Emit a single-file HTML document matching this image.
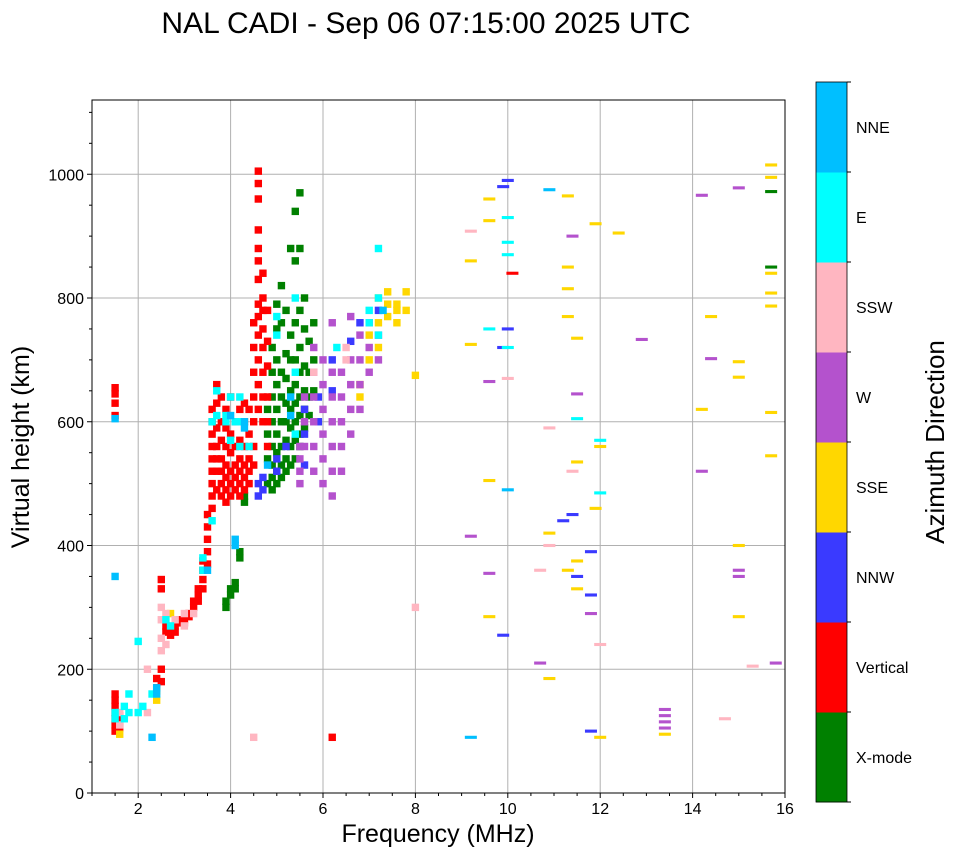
<!DOCTYPE html>
<html><head><meta charset="utf-8"><style>
body{margin:0;background:#fff;}
svg{display:block;font-family:"Liberation Sans","DejaVu Sans",sans-serif;}
</style></head><body>
<svg id="chart" width="958" height="857" viewBox="0 0 958 857">
<text x="426" y="33" font-size="30" text-anchor="middle">NAL CADI - Sep 06 07:15:00 2025 UTC</text>
<g id="grid"></g>
<g id="marks"></g>
<rect x="92" y="100" width="693" height="693" fill="none" stroke="#000" stroke-width="1"/>
<g id="axes"></g>
<text x="438" y="842" font-size="25" text-anchor="middle">Frequency (MHz)</text>
<text transform="translate(29,447) rotate(-90)" font-size="25" text-anchor="middle">Virtual height (km)</text>
<g id="cbar"></g>
<text transform="translate(944,442) rotate(-90)" font-size="26" text-anchor="middle">Azimuth Direction</text>
</svg>
<script>
const categories = ["X-mode","Vertical","NNW","SSE","W","SSW","E","NNE"];
const categoryColors = ["#008000","#ff0000","#3a3aff","#ffd700","#b452cd","#ffb6c1","#00ffff","#00bfff"];
const xTicks = [2,4,6,8,10,12,14,16];
const yTicks = [0,200,400,600,800,1000];
const xMin=1, xMax=16, yMin=0, yMax=1120;

const seriesXmode = [[3.9,[300,310]],[4.0,[320,330]],[4.1,[340,330]],[4.2,[380,390]],[4.3,[470,480]],[4.8,[500,540,580,620]],[4.9,[490,510,530,560,600,640,680,720]],[5.0,[500,520,550,580,620,660,700,750,790]],[5.1,[510,530,560,600,640,680,760,820]],[5.2,[520,540,570,600,630,670,710,780]],[5.3,[530,560,590,620,650,700,740,880]],[5.4,[540,570,600,630,660,700,760,860,940]],[5.5,[560,580,610,640,680,720,780,880,970]],[5.6,[590,620,650,690,750,800]],[5.7,[610,640,680,730]],[5.8,[650,700,760]],[15.7,[850,972]]];
const seriesVertical = [[1.5,[100,110,120,130,140,150,160,610,630,645,655]],[1.6,[105,125,115]],[2.4,[170,185]],[2.5,[180,200,330,345]],[2.6,[270,260]],[2.7,[265,255]],[2.8,[270,260]],[2.9,[275,280]],[3.0,[280,275]],[3.1,[290,285]],[3.2,[300,310]],[3.3,[310,320,330]],[3.4,[330,345,360,375]],[3.5,[370,390,410,430,450]],[3.6,[460,480,500,520,540,560,580,600,620]],[3.7,[490,520,540,560,590,630,660]],[3.8,[480,500,520,540,570,600,640]],[3.9,[470,490,510,530,560,590,620]],[4.0,[480,500,520,550,580,640]],[4.1,[490,510,530,560,600]],[4.2,[480,500,520,540,570,620]],[4.3,[490,510,530,560,600,630]],[4.4,[500,520,540,580,620]],[4.5,[530,560,600,640,680,720,760]],[4.6,[620,660,700,740,770,790,830,860,880,910,960,985,1005]],[4.7,[600,640,680,720,750,780,800,840]],[4.8,[560,600,640,690,730,780]],[6.2,[90]],[10.1,[840]]];
const seriesNNW = [[4.6,[480,500]],[4.7,[490,510]],[5.0,[520,540]],[5.2,[560]],[5.6,[530,580,620]],[5.9,[600,640]],[6.2,[650,700]],[6.6,[730]],[6.8,[760]],[7.2,[780]],[9.9,[980,720,255]],[10.0,[750,990]],[11.2,[440]],[11.4,[450]],[11.5,[350]],[11.8,[390,320,100]]];
const seriesSSE = [[1.6,[95]],[2.4,[150,165]],[2.7,[290]],[6.8,[640,660]],[7.0,[740,700]],[7.2,[720,760,800]],[7.4,[770,790,810]],[7.6,[760,780,790]],[7.8,[780,810]],[8.0,[675]],[9.2,[725,860]],[9.6,[285,505,925,960]],[10.9,[420,185]],[11.3,[360,770,815,850,965]],[11.5,[330,375,535,735]],[11.9,[460,920]],[12.0,[90,560]],[12.4,[905]],[13.4,[95]],[14.2,[620]],[14.4,[770]],[15.0,[285,400,672,697]],[15.7,[545,615,787,808,840,995,1015]]];
const seriesW = [[5.5,[500,520,540,560]],[5.6,[560,600,640]],[5.8,[520,560,600,640,680,720]],[6.0,[500,540,580,620,660,700]],[6.2,[480,520,560,600,640,680,760]],[6.4,[520,560,600,640,680]],[6.6,[580,620,660,700,770]],[6.8,[620,660,700,740]],[7.0,[680,720,760]],[7.2,[700,740]],[9.6,[355,665]],[9.2,[415]],[10.7,[210]],[11.5,[645]],[11.8,[290]],[13.4,[105,115,125,135]],[12.9,[733]],[14.2,[520,966]],[14.4,[702]],[15.0,[360,350,978]],[15.8,[210]],[11.4,[900]]];
const seriesSSW = [[1.6,[130,110]],[2.2,[200,130]],[2.5,[230,250,280,300]],[2.6,[240,290]],[2.8,[280]],[3.0,[270,290]],[3.2,[290]],[4.5,[90]],[5.8,[680]],[6.5,[720,700]],[9.2,[908]],[10.0,[670]],[10.7,[360]],[10.9,[400,590]],[11.4,[520]],[12.0,[240]],[14.7,[120]],[15.3,[205]],[8.0,[300]]];
const seriesE = [[1.5,[120,130]],[1.7,[120,140]],[1.8,[160,130]],[2.0,[130,245]],[2.1,[140]],[2.3,[160]],[2.6,[280]],[2.7,[270]],[3.4,[360,380]],[3.6,[440,600]],[3.7,[650,610]],[3.9,[600,610]],[4.0,[570,640]],[4.1,[600]],[4.2,[560,600,640]],[4.4,[560]],[5.0,[770,740]],[5.4,[580,680,800]],[6.3,[720]],[7.0,[780,760]],[7.2,[880,800,740]],[9.6,[750]],[10.0,[930,870,890,720]],[11.5,[605]],[12.0,[570,485]]];
const seriesNNE = [[1.5,[350,605]],[2.3,[90]],[2.4,[170,160]],[3.5,[360]],[4.1,[400,410]],[4.3,[590,600]],[4.0,[610]],[4.8,[530]],[5.3,[610,640]],[7.3,[780]],[9.2,[90]],[10.0,[490]],[10.9,[975]]];
const allSeries = [seriesXmode,seriesVertical,seriesNNW,seriesSSE,seriesW,seriesSSW,seriesE,seriesNNE];

const NS="http://www.w3.org/2000/svg";
const X0=92,X1=785,Y0=793,Y1=100;
function xs(f){return X0+(f-xMin)/(xMax-xMin)*(X1-X0);}
function ys(h){return Y0-(h-yMin)/(yMax-yMin)*(Y0-Y1);}
function mk(tag,attrs,parent){const e=document.createElementNS(NS,tag);for(const k in attrs)e.setAttribute(k,attrs[k]);parent.appendChild(e);return e;}

const grid=document.getElementById('grid'), axes=document.getElementById('axes'), marks=document.getElementById('marks'), cbar=document.getElementById('cbar');
xTicks.forEach(t=>{
  const x=xs(t);
  if(t<xMax){const g=mk('line',{x1:x,x2:x,y1:Y1,y2:Y0,stroke:'#b0b0b0','stroke-width':1},grid);
  
  }
  mk('line',{x1:x,x2:x,y1:Y0,y2:Y0+5,stroke:'#000'},axes);
  const l=mk('text',{x:x,y:Y0+21,'font-size':16,'text-anchor':'middle'},axes);l.textContent=t;
  
  
});
for(let f=1.5;f<16;f+=1){mk('line',{x1:xs(f),x2:xs(f),y1:Y0,y2:Y0+3,stroke:'#000'},axes);}
for(let f=1;f<16;f+=2){mk('line',{x1:xs(f),x2:xs(f),y1:Y0,y2:Y0+3,stroke:'#000'},axes);}
yTicks.forEach(t=>{
  const y=ys(t);
  if(t>0){const g=mk('line',{x1:X0,x2:X1,y1:y,y2:y,stroke:'#b0b0b0','stroke-width':1},grid);
  
  }
  mk('line',{x1:X0-5,x2:X0,y1:y,y2:y,stroke:'#000'},axes);
  const l=mk('text',{x:X0-8,y:y+6,'font-size':16,'text-anchor':'end'},axes);l.textContent=t;
  
  
});
for(let h=50;h<1120;h+=50){if(h%200)mk('line',{x1:X0-3,x2:X0,y1:ys(h),y2:ys(h),stroke:'#000'},axes);}

allSeries.forEach((series,ci)=>{
  series.forEach(([f,hs])=>{
    hs.forEach(h=>{
      const far=f>8.5;
      const w=far?0.26:0.16, hh=far?5:12;
      const r=mk('rect',{x:xs(f-w/2),y:ys(h+hh/2),width:w*(X1-X0)/(xMax-xMin),height:hh*(Y0-Y1)/(yMax-yMin),fill:categoryColors[ci]},marks);
      
      
    });
  });
});

const CB0=82,CB1=802,CBX=816,CBW=31;
const seg=(CB1-CB0)/categories.length;
categories.forEach((c,i)=>{
  const y=CB1-(i+1)*seg;
  const r=mk('rect',{x:CBX,y:y,width:CBW,height:seg+0.5,fill:categoryColors[i]},cbar);
  
  
  mk('line',{x1:CBX+CBW,x2:CBX+CBW+4,y1:y,y2:y,stroke:'#000'},cbar);
  const t=mk('text',{x:856,y:y+seg/2+6,'font-size':16},cbar);t.textContent=c;
  
  
});
mk('line',{x1:CBX+CBW,x2:CBX+CBW+4,y1:CB1,y2:CB1,stroke:'#000'},cbar);
mk('rect',{x:CBX,y:CB0,width:CBW,height:CB1-CB0,fill:'none',stroke:'#000','stroke-width':0.8},cbar);
</script>
</body></html>
